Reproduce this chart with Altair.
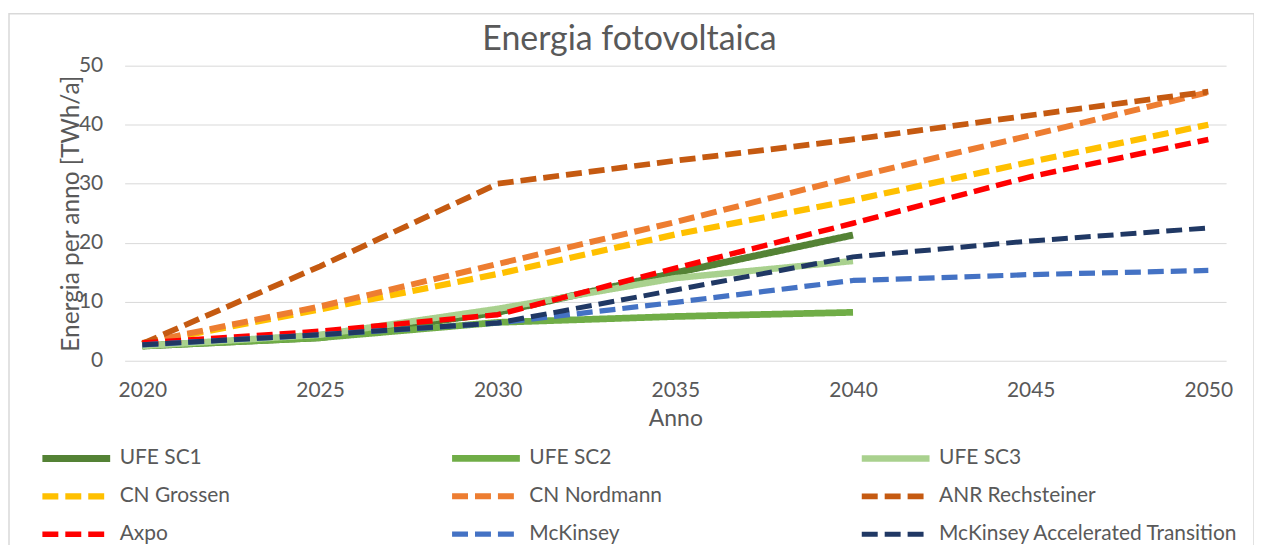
import altair as alt
import pandas as pd

years = [2020, 2025, 2030, 2035, 2040, 2045, 2050]

series_names = [
    "UFE SC1", "UFE SC2", "UFE SC3",
    "CN Grossen", "CN Nordmann", "ANR Rechsteiner",
    "Axpo", "McKinsey", "McKinsey Accelerated Transition",
]

ufe_sc1 = [2.5, 3.9, 8.2, 14.9, 21.3, None, None]
ufe_sc2 = [2.5, 3.9, 6.5, 7.5, 8.2, None, None]
ufe_sc3 = [2.5, 4.4, 8.8, 14.0, 16.9, None, None]
cn_grossen = [2.9, 8.7, 14.7, 21.4, 27.2, 33.7, 40.0]
cn_nordmann = [3.0, 9.2, 16.4, 23.5, 31.1, 38.2, 45.5]
anr_rechsteiner = [2.9, 16.0, 30.0, 33.9, 37.5, 41.6, 45.6]
axpo = [3.0, 5.0, 7.8, 15.7, 23.3, 31.2, 37.5]
mckinsey = [2.7, 4.4, 6.4, 9.9, 13.6, 14.6, 15.3]
mckinsey_at = [2.7, 4.4, 6.4, 12.0, 17.6, 20.3, 22.5]

all_values = [ufe_sc1, ufe_sc2, ufe_sc3, cn_grossen, cn_nordmann,
              anr_rechsteiner, axpo, mckinsey, mckinsey_at]

colors = ["#548235", "#70AD47", "#A9D18E", "#FFC000", "#ED7D31",
          "#C55A11", "#FF0000", "#4472C4", "#203864"]
dashes = [[1, 0], [1, 0], [1, 0], [16, 7], [16, 7], [16, 7], [16, 7], [16, 7], [16, 7]]
widths = [7, 5, 6, 4, 4, 4, 4, 4, 4]

rows = []
for name, vals in zip(series_names, all_values):
    for yr, v in zip(years, vals):
        if v is not None:
            rows.append({"Anno": yr, "serie": name, "valore": v})
df = pd.DataFrame(rows)

FONT = "Lato"
GREY = "#595959"

legend = alt.Legend(
    title=None, orient="none", legendX=-86, legendY=384, columns=3,
    direction="horizontal", gridAlign="all", columnPadding=29, rowPadding=17,
    symbolType="stroke", symbolSize=4624, clipHeight=20,
    labelFontSize=21, labelColor=GREY, labelFont=FONT, labelOffset=6,
    labelLimit=500, symbolOffset=0, padding=0,
)

lines = alt.Chart(df).mark_line(interpolate="linear", strokeJoin="round").encode(
    x=alt.X("Anno:Q",
            scale=alt.Scale(domain=[2019.5, 2050.5], nice=False, zero=False),
            axis=alt.Axis(values=years, format="d", grid=False, domain=False,
                          ticks=False, labelPadding=19, title="Anno",
                          titlePadding=7)),
    y=alt.Y("valore:Q",
            scale=alt.Scale(domain=[0, 50], nice=False),
            axis=alt.Axis(values=[0, 10, 20, 30, 40, 50],
                          title="Energia per anno [TWh/a]", domain=False,
                          ticks=False, labelPadding=22, gridColor="#d9d9d9",
                          titleX=-53, titleY=148, titleAngle=270,
                          titleAlign="center", titleBaseline="middle")),
    color=alt.Color("serie:N", scale=alt.Scale(domain=series_names, range=colors),
                    legend=legend),
    strokeDash=alt.StrokeDash("serie:N", scale=alt.Scale(domain=series_names, range=dashes),
                              legend=legend),
    strokeWidth=alt.StrokeWidth("serie:N", scale=alt.Scale(domain=series_names, range=widths),
                                legend=legend),
)

# light frame around the whole chart area (decoration)
frame = alt.Chart(pd.DataFrame({"k": [0]})).mark_rect(
    fill="transparent", stroke="#d9d9d9", strokeWidth=1.5
).encode(
    x=alt.value(-116), x2=alt.value(1133), y=alt.value(-52), y2=alt.value(640)
)

chart = alt.layer(frame, lines).properties(
    width=1105, height=296,
    autosize="none",
    padding={"left": 117, "top": 57, "right": 28, "bottom": 190},
    title=alt.Title("Energia fotovoltaica", fontSize=34, font=FONT,
                    fontWeight="normal", color=GREY, anchor="middle",
                    dx=-46, offset=-44),
).configure_view(stroke=None).configure_axis(
    labelFont=FONT, labelFontSize=21, labelColor=GREY,
    titleFont=FONT, titleFontSize=23, titleColor=GREY, titleFontWeight="normal",
).configure_axisY(titleFontSize=24.5)

chart.save("out.html", embed_options={"renderer": "svg", "actions": False})
